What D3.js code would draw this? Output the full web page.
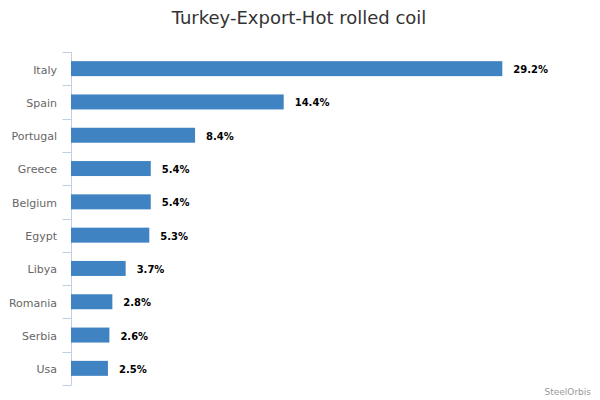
<!DOCTYPE html>
<html><head><meta charset="utf-8">
<script src="https://cdn.jsdelivr.net/npm/d3@7"></script>
<style>body{margin:0;background:#fff}svg{display:block}</style>
</head><body>
<svg id="c" width="600" height="400"></svg>
<script>
const categories = ["Italy","Spain","Portugal","Greece","Belgium","Egypt","Libya","Romania","Serbia","Usa"];
const values = [29.2,14.4,8.4,5.4,5.4,5.3,3.7,2.8,2.6,2.5];
const title = "Turkey-Export-Hot rolled coil";
const credit = "SteelOrbis";

(function(){
const svg = d3.select("#c");
const font = "'DejaVu Sans', sans-serif";
const pLeft = 71, pRight = 588, pTop = 52, pBottom = 385;

const x = d3.scaleLinear().domain([0, 35]).range([pLeft, pRight]);
const y = d3.scaleBand().domain(categories).range([pTop, pBottom]).paddingInner(0.55).paddingOuter(0.275);
const band = d3.scaleBand().domain(categories).range([pTop, pBottom]);

svg.append("text").attr("x", 299).attr("y", 24).attr("text-anchor", "middle")
  .attr("font-family", font).attr("font-size", 18).attr("fill", "#333").text(title);

const g = svg.append("g").attr("transform", `translate(${pLeft + 0.5},0)`);
g.append("line").attr("x1", 0).attr("x2", 0).attr("y1", pTop).attr("y2", pBottom).attr("stroke", "#c0d0e0");
const tickYs = categories.map(c => band(c)).concat([pBottom]);
g.selectAll("line.tk").data(tickYs).join("line").attr("class","tk")
  .attr("x1", -9).attr("x2", 0).attr("y1", d => Math.round(d) + 0.5).attr("y2", d => Math.round(d) + 0.5).attr("stroke", "#c0d0e0");

svg.append("g").selectAll("text").data(categories).join("text")
  .attr("x", 57).attr("y", d => y(d) + y.bandwidth()/2 + 1).attr("dy", "0.35em")
  .attr("text-anchor", "end").attr("font-family", font).attr("font-size", 11).attr("fill", "#666").text(d => d);

svg.append("g").selectAll("rect").data(values).join("rect")
  .attr("x", x(0)).attr("y", (d,i) => y(categories[i]))
  .attr("width", d => x(d) - x(0)).attr("height", y.bandwidth()).attr("fill", "#3f83c3");

svg.append("g").selectAll("text").data(values).join("text")
  .attr("x", d => x(d) + 11).attr("y", (d,i) => y(categories[i]) + y.bandwidth()/2 + 1).attr("dy", "0.35em")
  .attr("font-family", font).attr("font-size", 10).attr("font-weight", "bold").attr("fill", "#000")
  .text(d => d.toFixed(1) + "%");

svg.append("text").attr("x", 591).attr("y", 395).attr("text-anchor", "end")
  .attr("font-family", font).attr("font-size", 9).attr("fill", "#999").text(credit);
})();
</script>
</body></html>
